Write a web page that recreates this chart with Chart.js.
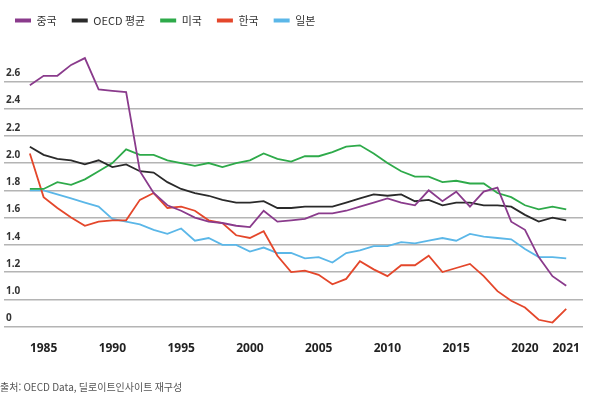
<!DOCTYPE html>
<html lang="ko">
<head>
<meta charset="utf-8">
<script src="https://cdn.jsdelivr.net/npm/chart.js@4.4.1/dist/chart.umd.min.js"></script>
<style>
  html, body { margin: 0; padding: 0; background: #fff; }
  #wrap { width: 602px; height: 396px; position: relative; }
</style>
</head>
<body>
<div id="wrap"><canvas id="tfrChart"></canvas></div>
<script>
// x-axis labels as printed under the chart (blank = no label at that point)
const xLabels = ['', '1985', '', '', '', '', '1990', '', '', '', '', '1995', '', '', '', '',
  '2000', '', '', '', '', '2005', '', '', '', '', '2010', '', '', '', '', '2015', '', '', '', '',
  '2020', '', '', '2021'];

// total fertility rate
const china = [2.57, 2.64, 2.64, 2.72, 2.77, 2.54, 2.53, 2.52, 1.94, 1.78, 1.69, 1.65, 1.60, 1.57,
  1.56, 1.54, 1.53, 1.65, 1.57, 1.58, 1.59, 1.63, 1.63, 1.65, 1.68, 1.71, 1.74, 1.71, 1.69, 1.80,
  1.72, 1.79, 1.68, 1.79, 1.82, 1.57, 1.51, 1.31, 1.17, 1.10];
const oecd = [2.12, 2.06, 2.03, 2.02, 1.99, 2.02, 1.97, 1.99, 1.94, 1.93, 1.86, 1.81, 1.78, 1.76,
  1.73, 1.71, 1.71, 1.72, 1.67, 1.67, 1.68, 1.68, 1.68, 1.71, 1.74, 1.77, 1.76, 1.77, 1.72, 1.73,
  1.69, 1.71, 1.71, 1.69, 1.69, 1.68, 1.62, 1.57, 1.60, 1.58];
const usa = [1.81, 1.81, 1.86, 1.84, 1.88, 1.94, 2.00, 2.10, 2.06, 2.06, 2.02, 2.00, 1.98, 2.00,
  1.97, 2.00, 2.02, 2.07, 2.03, 2.01, 2.05, 2.05, 2.08, 2.12, 2.13, 2.07, 2.00, 1.94, 1.90, 1.90,
  1.86, 1.87, 1.85, 1.85, 1.78, 1.75, 1.69, 1.66, 1.68, 1.66];
const korea = [2.07, 1.75, 1.67, 1.60, 1.54, 1.57, 1.58, 1.58, 1.73, 1.78, 1.67, 1.68, 1.65, 1.58,
  1.56, 1.47, 1.45, 1.50, 1.32, 1.20, 1.21, 1.18, 1.11, 1.15, 1.28, 1.22, 1.17, 1.25, 1.25, 1.32,
  1.20, 1.23, 1.26, 1.17, 1.06, 0.99, 0.94, 0.85, 0.83, 0.93];
const japan = [1.80, 1.80, 1.77, 1.74, 1.71, 1.68, 1.59, 1.57, 1.55, 1.51, 1.48, 1.52, 1.43, 1.45,
  1.40, 1.40, 1.35, 1.38, 1.34, 1.34, 1.30, 1.31, 1.27, 1.34, 1.36, 1.39, 1.39, 1.42, 1.41, 1.43,
  1.45, 1.43, 1.48, 1.46, 1.45, 1.44, 1.37, 1.31, 1.31, 1.30];

const yTicks = [0.8, 1.0, 1.2, 1.4, 1.6, 1.8, 2.0, 2.2, 2.4, 2.6];

Chart.defaults.font.family = "'Noto Sans CJK KR', 'Noto Sans', sans-serif";

function series(label, values, color) {
    return {
        label: label,
        data: values.map((v, i) => ({ x: i, y: v })),
        borderColor: color,
        backgroundColor: color,
        borderWidth: 1.8,
        pointRadius: 0,
        tension: 0
    };
}

// extra room between the legend and the plot
const legendGap = {
    id: 'legendGap',
    beforeInit(chart) {
        const fit = chart.legend.fit;
        chart.legend.fit = function () {
            fit.call(this);
            this.height += 18;
        };
    }
};

const ctx = document.getElementById('tfrChart').getContext('2d');
const chart = new Chart(ctx, {
    type: 'line',
    data: {
        datasets: [
            series('중국', china, '#8a3b8c'),
            series('OECD 평균', oecd, '#2a2a2a'),
            series('미국', usa, '#2eaa4a'),
            series('한국', korea, '#e4472b'),
            series('일본', japan, '#5bb7e8')
        ]
    },
    plugins: [legendGap],
    options: {
        responsive: true,
        maintainAspectRatio: false,
        animation: false,
        layout: { padding: { left: 0, right: 19, top: 0, bottom: 0 } },
        plugins: {
            tooltip: { enabled: false },
            legend: {
                position: 'top',
                align: 'start',
                labels: {
                    boxWidth: 16,
                    boxHeight: 4,
                    padding: 15,
                    color: '#333',
                    font: { size: 11 },
                    generateLabels: (c) => Chart.defaults.plugins.legend.labels.generateLabels(c)
                        .map(l => ({ ...l, lineWidth: 0 }))
                }
            },
            title: {
                display: true,
                text: '출처: OECD Data, 딜로이트인사이트 재구성',
                position: 'bottom',
                align: 'start',
                color: '#555',
                font: { size: 10, weight: 'normal' },
                padding: { top: 18, bottom: 3 }
            }
        },
        scales: {
            x: {
                type: 'linear',
                min: -1.88,
                max: 40.22,
                grid: { display: false },
                border: { display: false },
                afterBuildTicks: (axis) => {
                    axis.ticks = xLabels.map((l, i) => ({ value: i })).filter(t => xLabels[t.value] !== '');
                },
                ticks: {
                    autoSkip: false,
                    maxRotation: 0,
                    padding: 7,
                    color: '#222',
                    font: { size: 12, weight: 'bold', family: "'Noto Sans', sans-serif" },
                    callback: (v) => xLabels[v]
                }
            },
            y: {
                min: 0.8,
                max: 2.8,
                border: { display: false },
                afterBuildTicks: (axis) => {
                    axis.ticks = yTicks.map(v => ({ value: v }));
                },
                grid: { color: '#b4b4b4', lineWidth: 1.5, drawTicks: false },
                ticks: {
                    mirror: true,
                    padding: 2,
                    labelOffset: -8,
                    color: '#333',
                    font: { size: 10, weight: 'bold', family: "'Noto Sans', sans-serif" },
                    callback: (v) => (v < 0.9 ? '0' : v.toFixed(1))
                }
            }
        }
    }
});
</script>
</body>
</html>
